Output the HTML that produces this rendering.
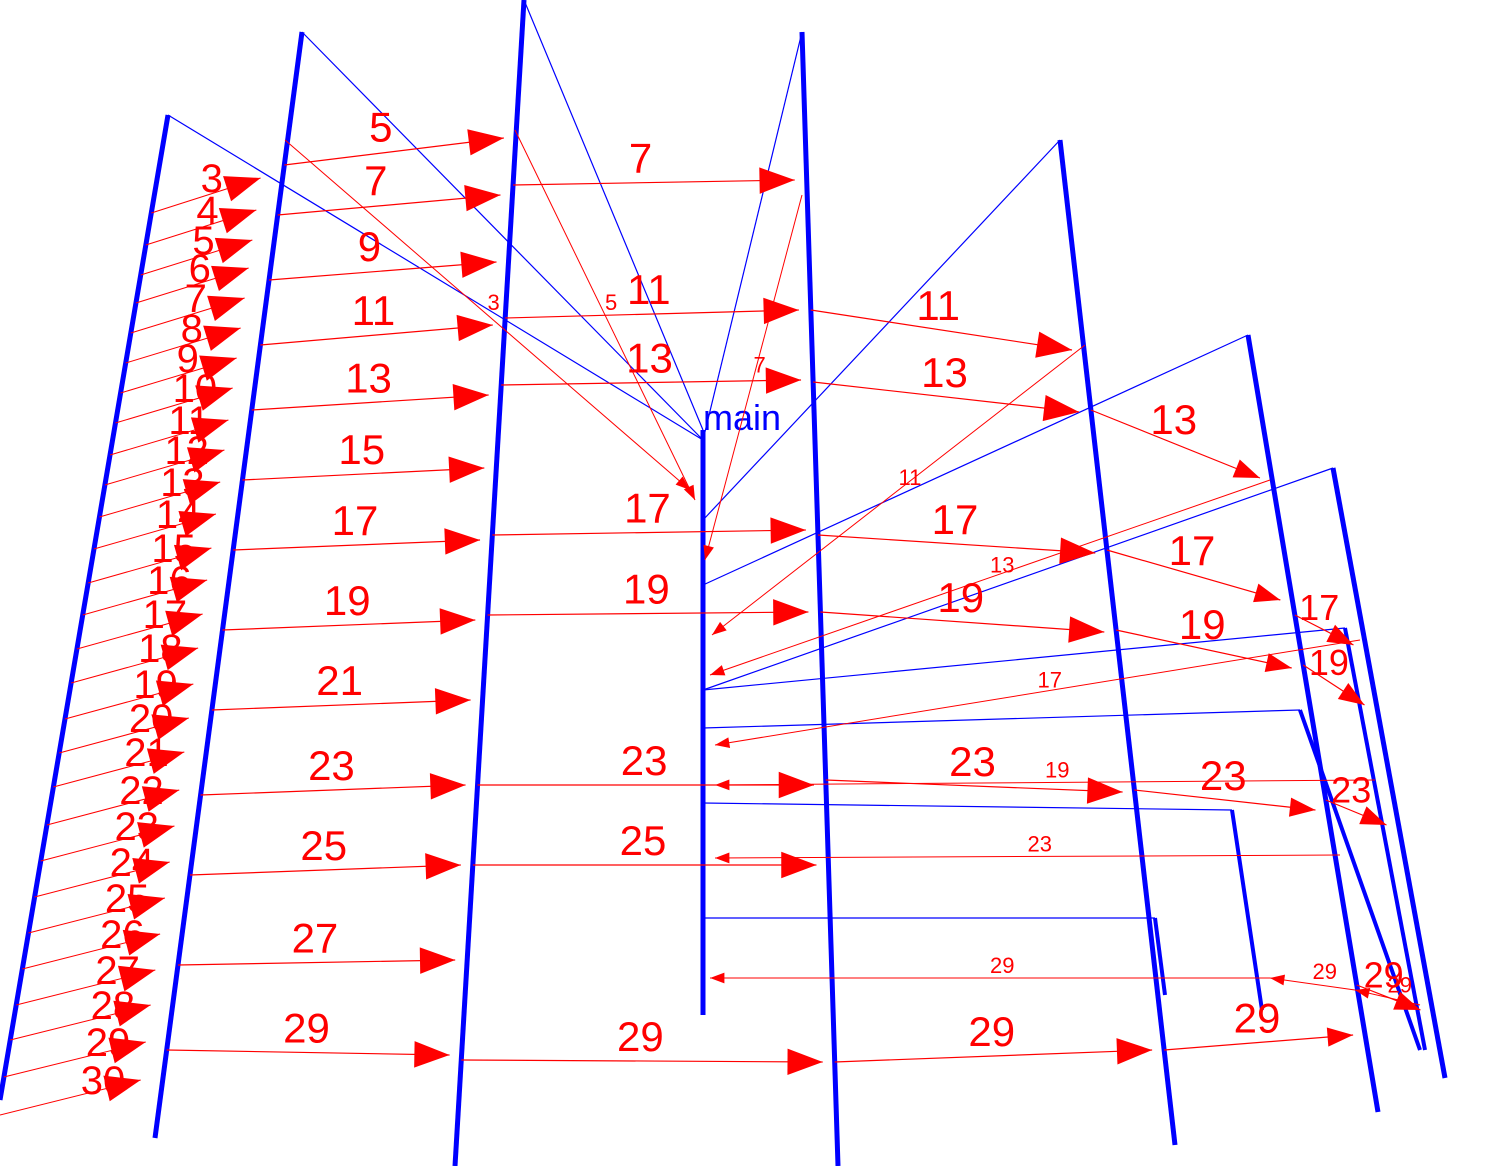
<!DOCTYPE html>
<html><head><meta charset="utf-8"><style>
html,body{margin:0;padding:0;background:#fff;}
svg{display:block;}
text{font-family:"Liberation Sans",sans-serif;fill:#f00;}
</style></head><body>
<svg id="c" width="1492" height="1166"></svg>
<script>
// lifelines: top x, top y, bottom x, bottom y
const lifelineTops = [[168,115],[302,32],[524,0],[703,430],[802,32],[1060,140],[1248,335],[1333,468]];
const lifelineBottoms = [[0,1100],[155,1138],[455,1166],[703,1015],[838,1166],[1175,1145],[1378,1112],[1445,1078]];
// extra short lifelines
const extraLines = [[1300,710,1420,1050],[1345,628,1425,1050],[1232,810,1262,1010],[1155,918,1165,995]];
// thin blue links [x1,y1,x2,y2]
const blueLinks = [[168,115,703,440],[302,32,703,440],[524,0,703,430],[802,32,703,440],[1060,140,703,520],[1248,335,703,585],[1333,468,703,690],[703,690,1345,628],[703,728,1300,710],[703,803,1232,810],[703,918,1155,918]];
// level-0 messages: labels and target y
const lvl0Labels = [3,4,5,6,7,8,9,10,11,12,13,14,15,16,17,18,19,20,21,22,23,24,25,26,27,28,29,30];
const lvl0Y = [178,210,240,268,298,328,358,388,420,450,482,514,548,580,614,648,684,718,752,790,826,862,898,934,970,1005,1042,1080];
// main messages [fromLifeline, toLifeline, yFrom, yTo, label]
const msgFrom = [1,1,1,1,1,1,1,1,1,1,1,1,1, 2,2,2,2,2,2,2,2, 4,4,4,4,4,4, 5,5,5,5,5, 6,6,6,6];
const msgTo   = [2,2,2,2,2,2,2,2,2,2,2,2,2, 4,4,4,4,4,4,4,4, 5,5,5,5,5,5, 6,6,6,6,6, 7,7,7,7];
const msgY1   = [165,215,280,345,410,480,550,630,710,795,875,965,1050, 185,318,385,535,615,785,865,1060, 310,382,535,612,780,1062, 410,550,630,790,1050, 615,665,800,985];
const msgY2   = [138,195,262,325,395,468,540,620,700,785,865,960,1055, 180,310,380,530,612,785,865,1062, 350,412,553,632,792,1050, 478,600,668,810,1035, 645,705,825,1010];
const msgLabels = [5,7,9,11,13,15,17,19,21,23,25,27,29, 7,11,13,17,19,23,25,29, 11,13,17,19,23,29, 13,17,19,23,29, 17,19,23,29];
// return / diagonal messages [x1,y1,x2,y2,label]
const returns = [[285,140,690,490,"3"],[515,130,695,500,"5"],[802,195,705,560,"7"],[1085,345,712,635,"11"],[1270,480,710,675,"13"],[1360,640,715,745,"17"],[1340,855,715,858,"23"],[1270,978,710,978,"29"],[1355,990,1270,978,"29"],[1420,1005,1355,990,"29"],[1375,780,715,785,"19"]];

const svg = document.getElementById('c');
const NS = 'http://www.w3.org/2000/svg';
function lx(i,y){const t=lifelineTops[i],b=lifelineBottoms[i];return t[0]+(b[0]-t[0])*(y-t[1])/(b[1]-t[1]);}
function mk(tag,attrs){const e=document.createElementNS(NS,tag);for(const k in attrs)e.setAttribute(k,attrs[k]);svg.appendChild(e);return e;}
function arrow(x1,y1,x2,y2,size,name){
  const dx=x2-x1,dy=y2-y1,L=Math.hypot(dx,dy),ux=dx/L,uy=dy/L;
  const bx=x2-ux*size*1.6,by=y2-uy*size*1.6;
  const p=mk('polygon',{points:`${x2},${y2} ${bx-uy*size*0.6},${by+ux*size*0.6} ${bx+uy*size*0.6},${by-ux*size*0.6}`,fill:'#f00'});
  
  
}
blueLinks.forEach(b=>{const l=mk('line',{x1:b[0],y1:b[1],x2:b[2],y2:b[3],stroke:'#00f','stroke-width':1.2});
  
  });
lifelineTops.forEach((t,i)=>{const b=lifelineBottoms[i];const l=mk('line',{x1:t[0],y1:t[1],x2:b[0],y2:b[1],stroke:'#00f','stroke-width':5});
  
  });
extraLines.forEach(b=>{const l=mk('line',{x1:b[0],y1:b[1],x2:b[2],y2:b[3],stroke:'#00f','stroke-width':4});
  
  });
const mt=mk('text',{x:703,y:430,'font-size':36,style:'fill:#00f'});mt.textContent='main';


lvl0Y.forEach((y,i)=>{
  const x2=lx(1,y)-22,x1=Math.max(0,lx(0,y+35));
  const l=mk('line',{x1:x1,y1:y+35,x2:x2,y2:y,stroke:'#f00','stroke-width':1});
  
  
  arrow(x1,y+35,x2,y,22,'message-arrow');
  const t=mk('text',{x:x2-60,y:y+14,'font-size':40});t.textContent=lvl0Labels[i];
  
  
});
msgFrom.forEach((f,i)=>{
  const y1=msgY1[i],y2=msgY2[i];
  const x1=lx(f,y1),x2=lx(msgTo[i],y2)-12;
  const l=mk('line',{x1:x1,y1:y1,x2:x2,y2:y2,stroke:'#f00','stroke-width':1.2});
  
  
  arrow(x1,y1,x2,y2,msgTo[i]>=6?16:22,'message-arrow');
  const t=mk('text',{x:(x1+x2)/2-25,y:(y1+y2)/2-10,'font-size':msgTo[i]>=7?36:42});t.textContent=msgLabels[i];
  
  
});
returns.forEach(r=>{
  const l=mk('line',{x1:r[0],y1:r[1],x2:r[2],y2:r[3],stroke:'#f00','stroke-width':1});
  
  
  arrow(r[0],r[1],r[2],r[3],9,'return-arrow');
  const t=mk('text',{x:(r[0]+r[2])/2,y:(r[1]+r[3])/2-5,'font-size':22});t.textContent=r[4];
  
  
});
</script>
</body></html>
